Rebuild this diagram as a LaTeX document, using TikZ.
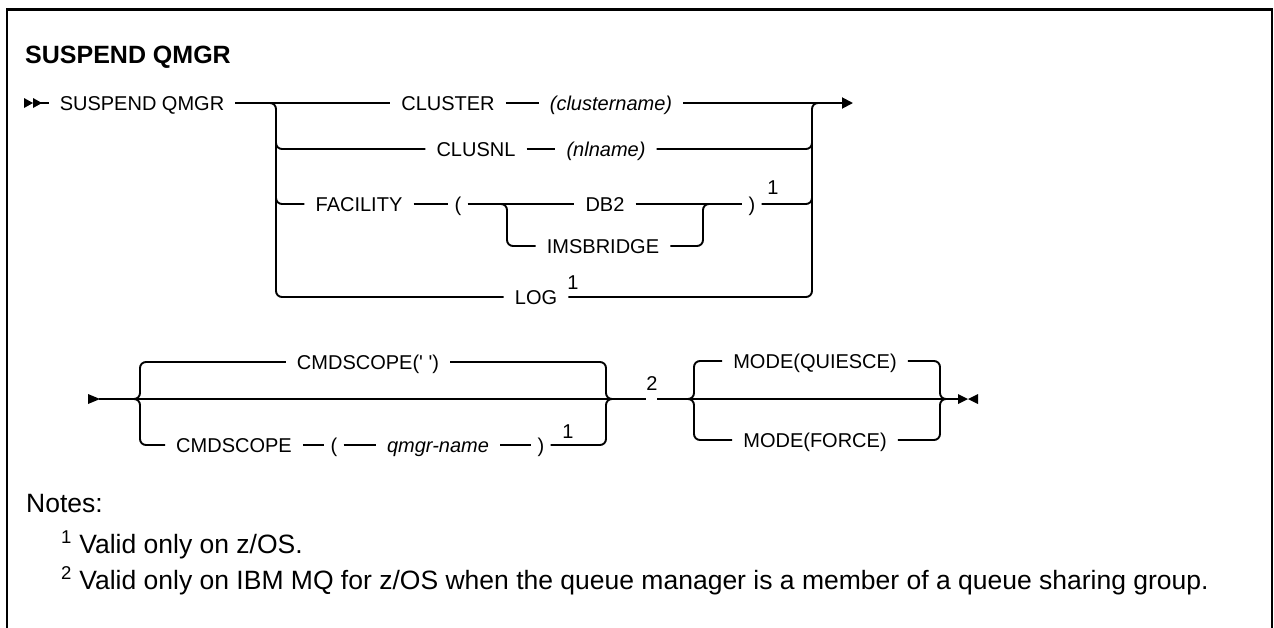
\documentclass[tikz,border=0pt]{standalone}
\usepackage{fontspec}
\setmainfont{Liberation Sans}
\usetikzlibrary{arrows.meta}
\newcommand\rrfont{\fontsize{20}{24}\selectfont}
\newcommand\notefont{\fontsize{26.5}{31}\selectfont}
\newcommand\headingfont{\fontsize{25}{30}\selectfont\bfseries}
\tikzset{
  rail/.style={line width=1.9pt},
  railbend/.style={rail, rounded corners=6pt},
  boxline/.style={line width=2.4pt},
  kw/.style={font=\rrfont, inner xsep=11pt, inner ysep=0pt, text height=14.3pt, text depth=0pt},
  var/.style={kw, font=\rrfont\itshape},
  paren/.style={kw, inner xsep=6pt},
  sup/.style={font=\rrfont, inner sep=0pt, text height=14.3pt, text depth=0pt},
  gap/.style={inner sep=0pt, minimum width=11pt, minimum height=2pt},
  note/.style={font=\notefont, anchor=base west, inner sep=0pt},
  heading/.style={font=\headingfont, anchor=base west, inner sep=0pt},
  endtip/.style={-{Triangle[length=11pt,width=11pt]}}
}

\begin{document}
\begin{tikzpicture}[x=1pt,y=-1pt]
  \useasboundingbox (0,0) rectangle (1274,627);
  \draw[boxline] (7,630) -- (7,9.6) -- (1272,9.6) -- (1272,630);

  \node[heading] (title) at (25,63) {SUSPEND QMGR};

  % first diagram
  \fill (24,98) -- (33,103) -- (24,108) -- cycle;
  \fill (33,98) -- (42,103) -- (33,108) -- cycle;
  \coordinate (s1) at (40,103);
  \coordinate (e1) at (853,103);
  \node[kw] (susp) at (142,103) {SUSPEND QMGR};
  \node[kw] (cluster) at (448,103) {CLUSTER};
  \node[var] (clname) at (611,103) {(clustername)};
  \node[kw] (clusnl) at (476,149) {CLUSNL};
  \node[var] (nlname) at (606,149) {(nlname)};
  \node[kw] (facility) at (359,204) {FACILITY};
  \node[paren] (flpar) at (458,204) {(};
  \node[kw] (db2) at (605,204) {DB2};
  \node[paren] (frpar) at (752,204) {)};
  \node[sup] (supa) at (773,187) {1};
  \node[kw] (ims) at (603,246) {IMSBRIDGE};
  \node[kw] (log) at (536,297) {LOG};
  \node[sup] (supb) at (573,282) {1};

  \draw[rail] (s1) -- (susp);
  \draw[rail] (susp) -- (cluster);
  \draw[rail] (cluster) -- (clname);
  \draw[rail,endtip] (clname) -- (e1);
  \draw[railbend] (264,103) -| (276,297) -- (log);
  \draw[railbend] (276,130) |- (clusnl);
  \draw[rail] (clusnl) -- (nlname);
  \draw[railbend] (276,185) |- (facility);
  \draw[railbend] (log) -| (812,103) -- (824,103);
  \draw[railbend] (nlname) -| (812,130);
  \draw[railbend] (frpar) -| (812,185);
  \draw[rail] (facility) -- (flpar);
  \draw[rail] (flpar) -- (db2);
  \draw[rail] (db2) -- (frpar);
  \draw[railbend] (497,204) -| (507,246) -- (ims);
  \draw[railbend] (ims) -| (703,204) -- (713,204);

  % second diagram
  \fill (88,394) -- (100,399) -- (88,404) -- cycle;
  \coordinate (s2) at (99,399);
  \coordinate (e2) at (958,399);
  \node[kw] (cmd0) at (368,362) {CMDSCOPE(\textquotesingle\ \textquotesingle)};
  \node[kw] (cmd) at (234,445) {CMDSCOPE};
  \node[paren] (lpar2) at (334,445) {(};
  \node[var] (qmgr) at (438,445) {qmgr-name};
  \node[paren] (rpar2) at (541,445) {)};
  \node[sup] (supc) at (568,431) {1};
  \node[gap] (two) at (651.5,399) {};
  \node[sup] (twotext) at (652,383) {2};
  \node[kw] (quiesce) at (815,361) {MODE(QUIESCE)};
  \node[kw] (force) at (815,440) {MODE(FORCE)};

  \draw[rail] (s2) -- (two);
  \draw[rail] (two) -- (e2);
  \draw[railbend] (130,399) -| (140,362) -- (cmd0);
  \draw[railbend] (130,399) -| (140,445) -- (cmd);
  \draw[railbend] (cmd0) -| (606,399) -- (616,399);
  \draw[rail] (cmd) -- (lpar2);
  \draw[rail] (lpar2) -- (qmgr);
  \draw[rail] (qmgr) -- (rpar2);
  \draw[railbend] (rpar2) -| (606,399) -- (616,399);
  \draw[railbend] (684,399) -| (694,361) -- (quiesce);
  \draw[railbend] (684,399) -| (694,440) -- (force);
  \draw[railbend] (quiesce) -| (940,399) -- (950,399);
  \draw[railbend] (force) -| (940,399) -- (950,399);
  \fill (958,394) -- (968,399) -- (958,404) -- cycle;
  \fill (978,394) -- (968,399) -- (978,404) -- cycle;

  % notes
  \node[note] (notes) at (26,512) {Notes:};
  \node[note] (note1) at (61,553) {\textsuperscript{1} Valid only on z/OS.};
  \node[note] (note2) at (61,589) {\textsuperscript{2} Valid only on IBM MQ for z/OS when the queue manager is a member of a queue sharing group.};
\end{tikzpicture}
\end{document}
